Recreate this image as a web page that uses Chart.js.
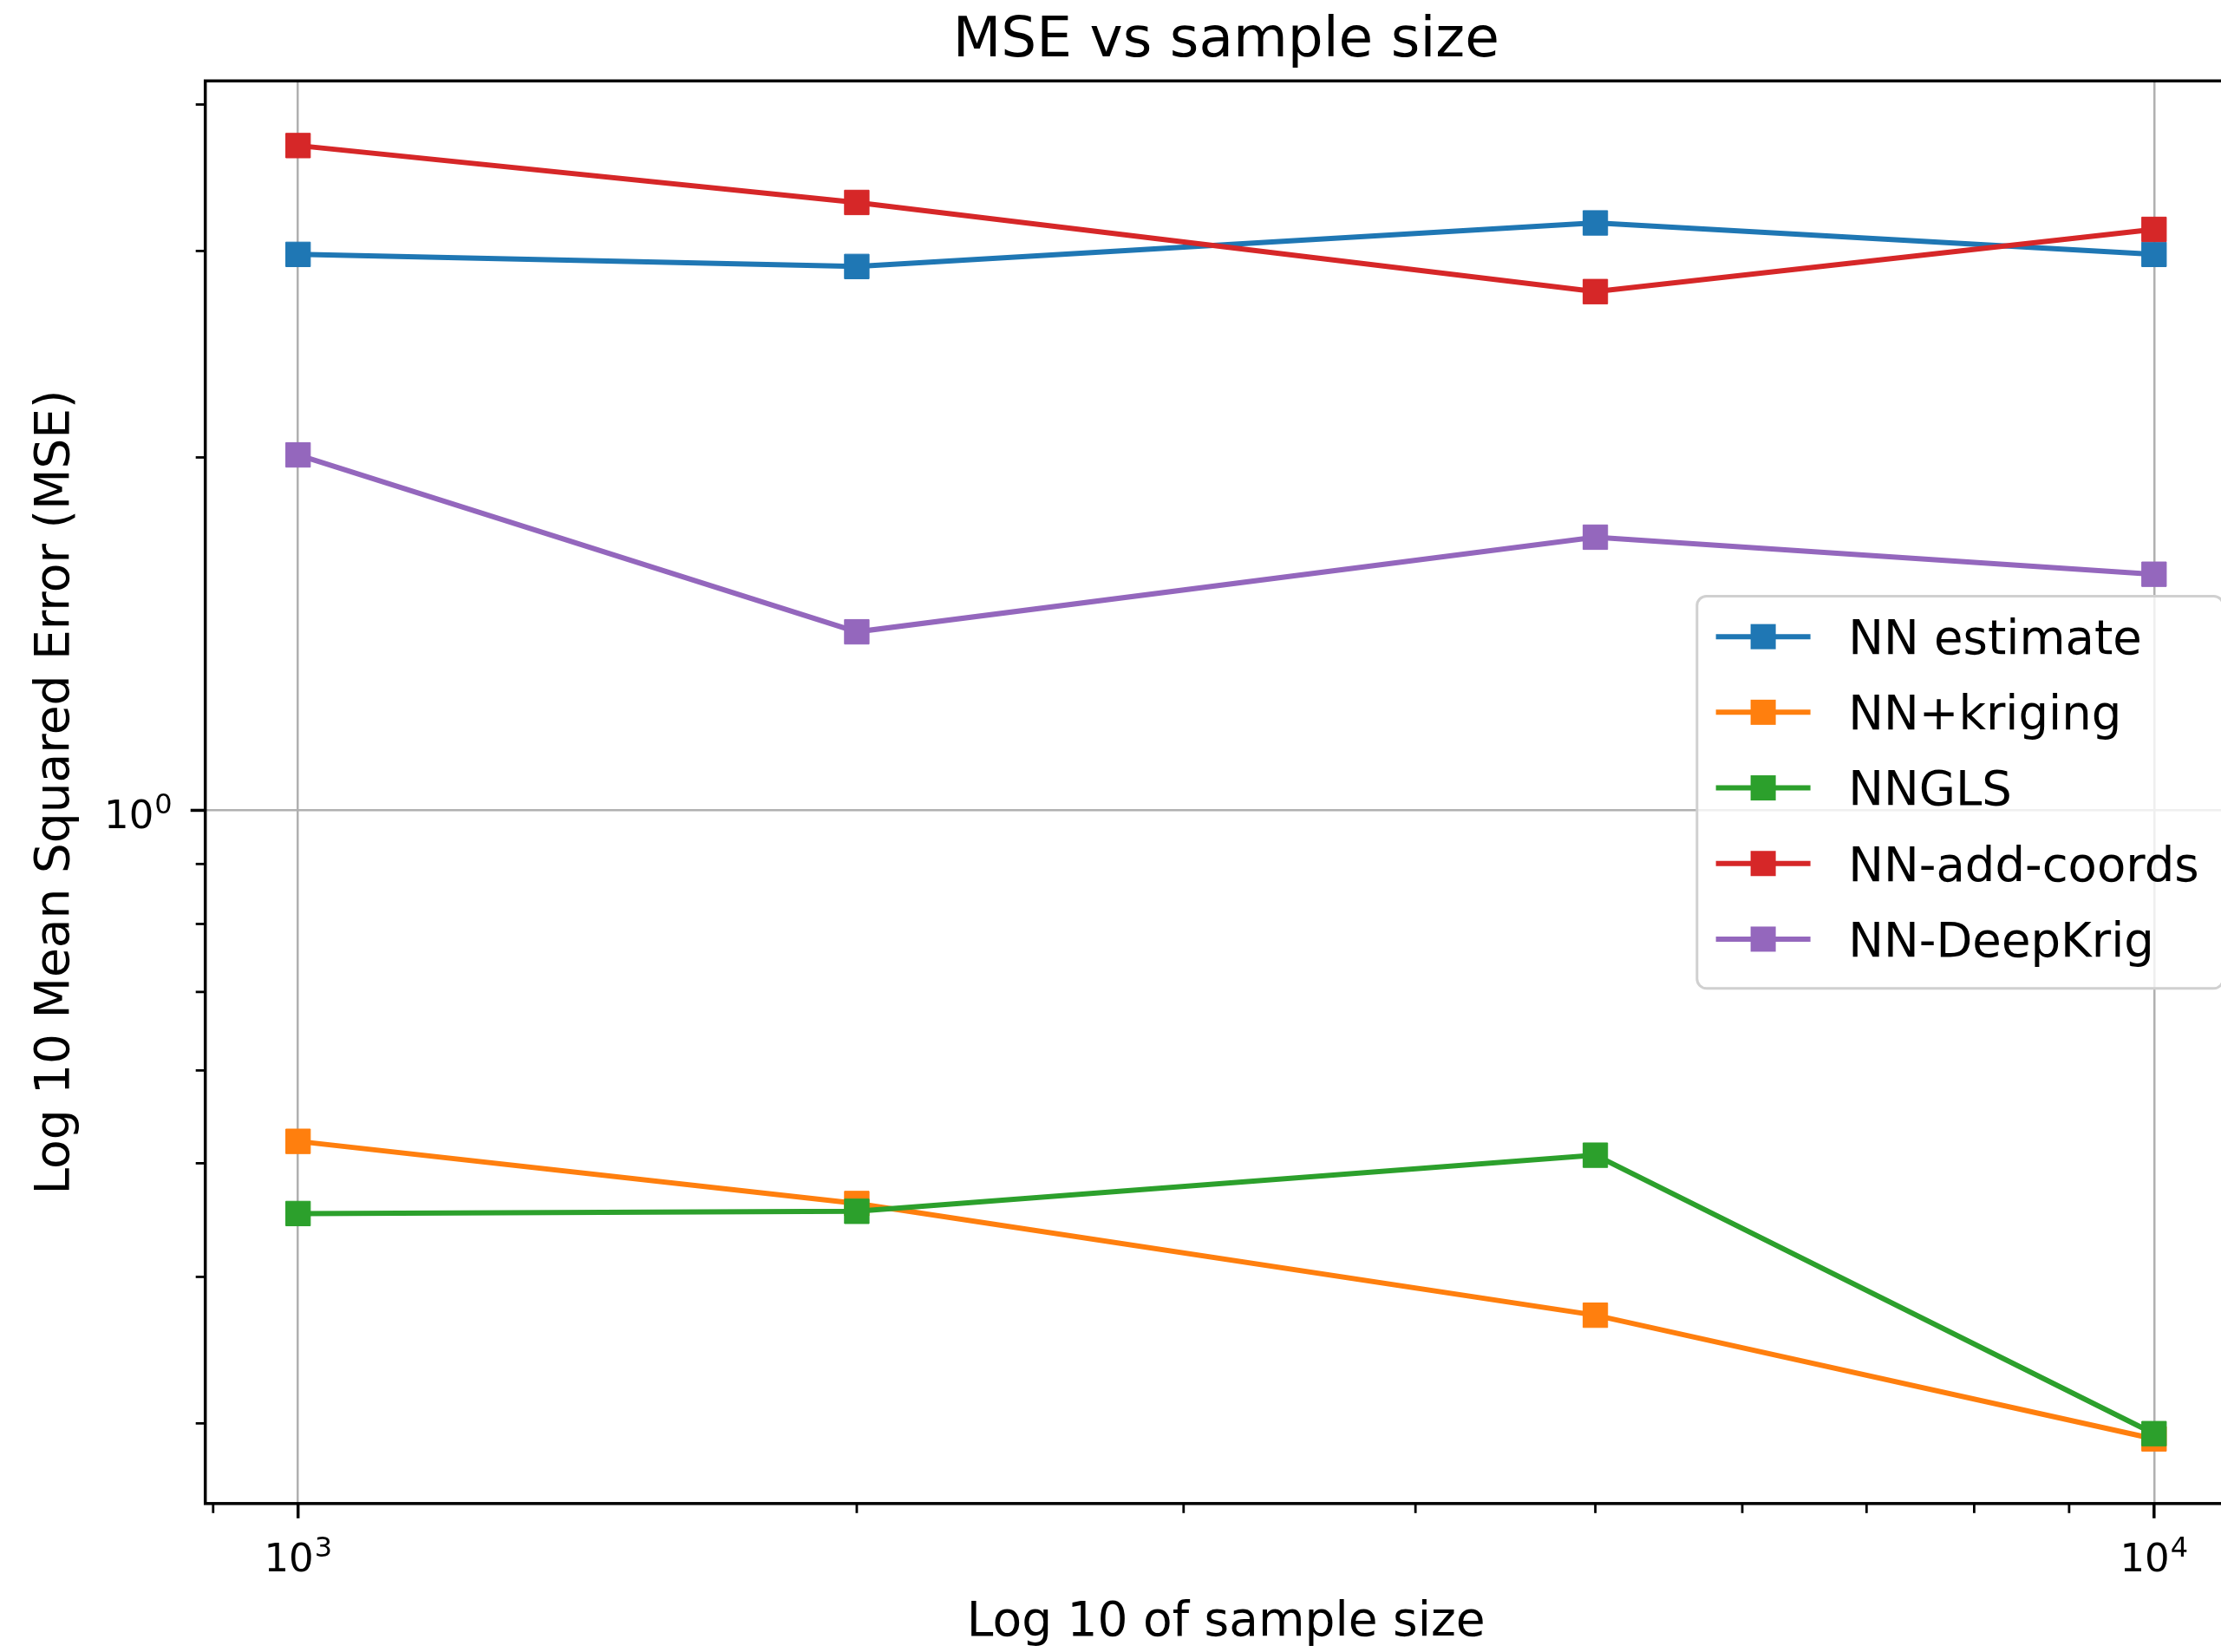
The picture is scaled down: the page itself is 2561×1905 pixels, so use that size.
<!DOCTYPE html>
<html>
<head>
<meta charset="utf-8">
<script src="https://cdn.jsdelivr.net/npm/chart.js@4"></script>
<style>
  html, body { margin: 0; padding: 0; background: #ffffff; overflow: hidden; }
  #wrap { width: 2828px; height: 1905px; }
  canvas { display: block; }
</style>
</head>
<body>
<div id="wrap"><canvas id="mse" width="2828" height="1905"></canvas></div>
<script>
// Sample sizes (x) and mean squared error per method (y)
const sampleSizes = [1000, 2000, 5000, 10000];
const seriesNames = ['NN estimate', 'NN+kriging', 'NNGLS', 'NN-add-coords', 'NN-DeepKrig'];
const nnEstimate  = [2.98, 2.91, 3.17, 2.98];
const nnKriging   = [0.522, 0.462, 0.371, 0.291];
const nngls       = [0.453, 0.455, 0.508, 0.294];
const nnAddCoords = [3.69, 3.30, 2.77, 3.13];
const nnDeepKrig  = [2.01, 1.42, 1.71, 1.59];
const seriesColors = ['#1f77b4', '#ff7f0e', '#2ca02c', '#d62728', '#9467bd'];

// Tick positions and labels (base, exponent)
const xMajorTicks = [1000, 10000];
const xTickLabels = [['10', '3'], ['10', '4']];
const xMinorTicks = [900, 2000, 3000, 4000, 5000, 6000, 7000, 8000, 9000];
const yMajorTicks = [1];
const yTickLabels = [['10', '0']];
const yMinorTicks = [0.3, 0.4, 0.5, 0.6, 0.7, 0.8, 0.9, 2, 3, 4];

const chartTitle = 'MSE vs sample size';
const xAxisTitle = 'Log 10 of sample size';
const yAxisTitle = 'Log 10 Mean Squared Error (MSE)';

const allSeries = [nnEstimate, nnKriging, nngls, nnAddCoords, nnDeepKrig];
const FONT = "'DejaVu Sans', 'Liberation Sans', sans-serif";

// log-scale limits with a 5% margin on each side
function logLimits(values, margin) {
  const lo = Math.log10(Math.min(...values));
  const hi = Math.log10(Math.max(...values));
  const pad = (hi - lo) * margin;
  return [Math.pow(10, lo - pad), Math.pow(10, hi + pad)];
}
const [xMin, xMax] = logLimits(sampleSizes, 0.05);
const [yMin, yMax] = logLimits(allSeries.flat(), 0.05);

const datasets = allSeries.map((vals, i) => ({
  label: seriesNames[i],
  data: sampleSizes.map((n, j) => ({ x: n, y: vals[j] })),
  borderColor: seriesColors[i],
  backgroundColor: seriesColors[i],
  pointBackgroundColor: seriesColors[i],
  pointBorderColor: seriesColors[i],
  borderWidth: 6,
  pointStyle: 'rect',
  pointRadius: 20,
  pointBorderWidth: 1,
  tension: 0,
  fill: false,
  order: allSeries.length - i
}));

const xMajorSet = new Set(xMajorTicks);
const yMajorSet = new Set(yMajorTicks);

function setTicks(values) {
  return (scale) => {
    scale.ticks = values.slice().sort((a, b) => a - b).map(v => ({ value: v }));
  };
}

// axes frame, outward tick marks, power-of-ten tick labels and the title
const frameAndTicks = {
  id: 'frameAndTicks',
  afterDatasetsDraw(chart) {
    const { ctx, chartArea: a, scales } = chart;
    ctx.save();
    ctx.strokeStyle = '#000000';
    ctx.lineCap = 'butt';
    const tick = (x1, y1, x2, y2, w) => {
      ctx.lineWidth = w;
      ctx.beginPath(); ctx.moveTo(x1, y1); ctx.lineTo(x2, y2); ctx.stroke();
    };
    xMajorTicks.forEach(v => { const p = scales.x.getPixelForValue(v); tick(p, a.bottom, p, a.bottom + 17, 3.5); });
    xMinorTicks.forEach(v => { const p = scales.x.getPixelForValue(v); tick(p, a.bottom, p, a.bottom + 11, 2.8); });
    yMajorTicks.forEach(v => { const p = scales.y.getPixelForValue(v); tick(a.left - 17, p, a.left, p, 3.5); });
    yMinorTicks.forEach(v => { const p = scales.y.getPixelForValue(v); tick(a.left - 11, p, a.left, p, 2.8); });
    ctx.lineWidth = 3.5;
    ctx.strokeRect(a.left, a.top, a.right - a.left, a.bottom - a.top);

    // power labels: base at 45px, raised exponent at 32px
    const baseFont = `45px ${FONT}`, expFont = `32px ${FONT}`;
    const widths = (lab) => {
      ctx.font = baseFont; const wb = ctx.measureText(lab[0]).width;
      ctx.font = expFont; const we = ctx.measureText(lab[1]).width;
      return [wb, we];
    };
    const drawPow = (lab, x, baseline) => {
      const [wb] = widths(lab);
      ctx.fillStyle = '#000000';
      ctx.textAlign = 'left';
      ctx.textBaseline = 'alphabetic';
      ctx.font = baseFont; ctx.fillText(lab[0], x, baseline);
      ctx.font = expFont; ctx.fillText(lab[1], x + wb + 1, baseline - 17);
    };
    xMajorTicks.forEach((v, i) => {
      const p = scales.x.getPixelForValue(v);
      const [wb, we] = widths(xTickLabels[i]);
      drawPow(xTickLabels[i], p - (wb + we + 1) / 2, a.bottom + 78);
    });
    yMajorTicks.forEach((v, i) => {
      const p = scales.y.getPixelForValue(v);
      const [wb, we] = widths(yTickLabels[i]);
      drawPow(yTickLabels[i], a.left - 38 - (wb + we + 1), p + 21);
    });

    ctx.font = `64.5px ${FONT}`;
    ctx.textAlign = 'center';
    ctx.textBaseline = 'alphabetic';
    ctx.fillStyle = '#000000';
    ctx.fillText(chartTitle, (a.left + a.right) / 2, 65);
    ctx.restore();
  }
};

// boxed legend, centred on the right side of the plot area
const boxLegend = {
  id: 'boxLegend',
  afterDraw(chart) {
    const { ctx, chartArea: a } = chart;
    const f = 54.5;
    const pad = 0.4 * f, spacing = 0.5 * f, rowH = 1.1 * f;
    const handleLen = 2 * f, textPad = 0.8 * f;
    ctx.save();
    ctx.font = `${f}px ${FONT}`;
    const items = chart.data.datasets;
    const textW = Math.max(...items.map(d => ctx.measureText(d.label).width));
    const w = pad + handleLen + textPad + textW + pad + 6;
    const h = 2 * pad + items.length * rowH + (items.length - 1) * spacing;
    const right = a.right - 0.5 * f;
    const left = right - w;
    const top = (a.top + a.bottom) / 2 - h / 2;
    const r = 0.2 * f;
    ctx.beginPath();
    ctx.moveTo(left + r, top);
    ctx.arcTo(left + w, top, left + w, top + h, r);
    ctx.arcTo(left + w, top + h, left, top + h, r);
    ctx.arcTo(left, top + h, left, top, r);
    ctx.arcTo(left, top, left + w, top, r);
    ctx.closePath();
    ctx.fillStyle = 'rgba(255,255,255,0.8)';
    ctx.fill();
    ctx.strokeStyle = '#d0d0d0';
    ctx.lineWidth = 3;
    ctx.stroke();
    items.forEach((d, i) => {
      const cy = top + pad + rowH / 2 - 5 + i * (rowH + spacing);
      const hx = left + pad;
      ctx.strokeStyle = d.borderColor;
      ctx.lineWidth = 6;
      ctx.beginPath(); ctx.moveTo(hx, cy); ctx.lineTo(hx + handleLen, cy); ctx.stroke();
      ctx.fillStyle = d.borderColor;
      ctx.fillRect(hx + handleLen / 2 - 14.5, cy - 14.5, 29, 29);
      ctx.fillStyle = '#000000';
      ctx.textBaseline = 'alphabetic';
      ctx.textAlign = 'left';
      ctx.fillText(d.label, hx + handleLen + textPad, cy + 0.3645 * f);
    });
    ctx.restore();
  }
};

new Chart(document.getElementById('mse'), {
  type: 'line',
  data: { datasets },
  options: {
    responsive: false,
    animation: false,
    devicePixelRatio: 1,
    layout: { padding: { left: 0, right: 237.2, top: 93.3, bottom: 0 } },
    plugins: {
      legend: { display: false },
      tooltip: { enabled: false },
      title: { display: false }
    },
    scales: {
      x: {
        type: 'logarithmic',
        position: 'bottom',
        min: xMin,
        max: xMax,
        afterBuildTicks: setTicks([...xMajorTicks, ...xMinorTicks]),
        afterFit: (scale) => { scale.height = 171.2; },
        border: { display: false },
        grid: {
          drawTicks: false,
          lineWidth: 2.5,
          color: (c) => (c.tick && xMajorSet.has(c.tick.value)) ? '#b0b0b0' : 'rgba(0,0,0,0)'
        },
        ticks: { display: false, autoSkip: false, maxRotation: 0 },
        title: {
          display: true,
          text: xAxisTitle,
          color: '#000000',
          font: { family: FONT, size: 55 },
          padding: { top: 0, bottom: 0 }
        }
      },
      y: {
        type: 'logarithmic',
        position: 'left',
        min: yMin,
        max: yMax,
        afterBuildTicks: setTicks([...yMajorTicks, ...yMinorTicks]),
        afterFit: (scale) => { scale.width = 236.7; },
        border: { display: false },
        grid: {
          drawTicks: false,
          lineWidth: 2.5,
          color: (c) => (c.tick && yMajorSet.has(c.tick.value)) ? '#b0b0b0' : 'rgba(0,0,0,0)'
        },
        ticks: { display: false, autoSkip: false },
        title: {
          display: true,
          text: yAxisTitle,
          color: '#000000',
          font: { family: FONT, size: 55 },
          padding: { top: 32, bottom: 0 }
        }
      }
    }
  },
  plugins: [frameAndTicks, boxLegend]
});
</script>
</body>
</html>
